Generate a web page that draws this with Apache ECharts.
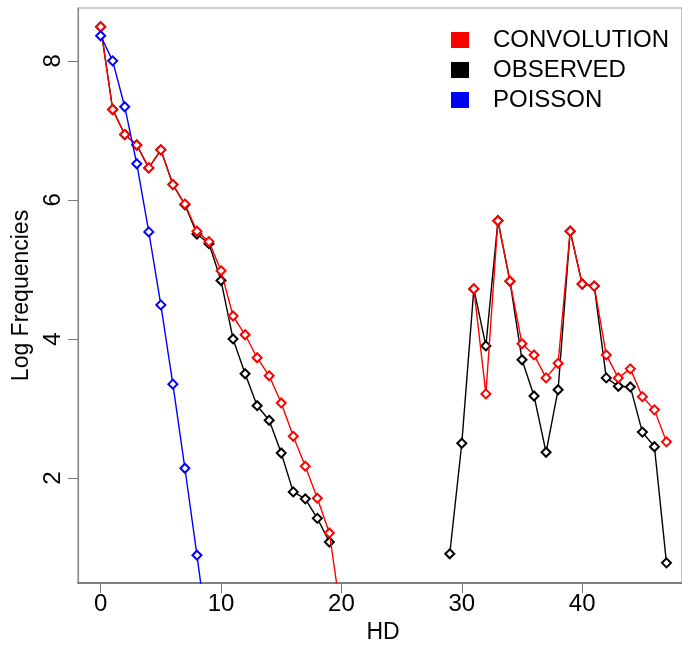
<!DOCTYPE html>
<html>
<head>
<meta charset="utf-8">
<script src="https://cdn.jsdelivr.net/npm/echarts@6/dist/echarts.min.js"></script>
<style>
  html, body { margin: 0; padding: 0; background: #fff; }
  #chart { width: 682px; height: 649px; }
</style>
</head>
<body>
<div id="chart"></div>
<script>
// Hamming distance (HD) values on the x axis
const hd = [0, 1, 2, 3, 4, 5, 6, 7, 8, 9, 10, 11, 12, 13, 14, 15, 16, 17, 18, 19,
            20, 21, 22, 23, 24, 25, 26, 27, 28, 29, 30, 31, 32, 33, 34, 35, 36, 37,
            38, 39, 40, 41, 42, 43, 44, 45, 46, 47];

// Log frequencies per HD (null = no count)
const convolution = [8.49, 7.30, 6.94, 6.79, 6.46, 6.72, 6.22, 5.94, 5.55, 5.40,
                     4.98, 4.33, 4.06, 3.73, 3.47, 3.08, 2.60, 2.17, 1.71, 1.21,
                     0.00, null, null, null, null, null, null, null, null, null,
                     null, 4.72, 3.21, 5.70, 4.83, 3.93, 3.77, 3.44, 3.65, 5.55,
                     4.79, 4.76, 3.77, 3.44, 3.57, 3.17, 2.98, 2.52];

const observed = [8.49, 7.30, 6.94, 6.79, 6.46, 6.72, 6.22, 5.93, 5.51, 5.37,
                  4.84, 4.00, 3.50, 3.04, 2.83, 2.36, 1.80, 1.70, 1.42, 1.08,
                  null, null, null, null, null, null, null, null, null, 0.91,
                  2.50, 4.72, 3.90, 5.70, 4.83, 3.70, 3.18, 2.37, 3.27, 5.55,
                  4.79, 4.76, 3.44, 3.32, 3.31, 2.66, 2.45, 0.78];

const poisson = [8.36, 8.00, 7.34, 6.52, 5.54, 4.49, 3.35, 2.14, 0.89, -0.40];

const xTicks = [0, 10, 20, 30, 40];
const yTicks = [2, 4, 6, 8];

const pairs = (vals) => vals.map((v, i) => [hd[i], v]);

const FONT = '"Liberation Sans", Arial, Helvetica, sans-serif';

function lineSeries(name, color, vals, z) {
  return {
    name: name,
    type: 'line',
    data: pairs(vals),
    z: z,
    clip: true,
    connectNulls: false,
    symbol: 'emptyDiamond',
    symbolSize: 9,
    color: color,
    lineStyle: { color: color, width: 1.4 },
    itemStyle: { color: color, borderWidth: 1.4 },
    emphasis: { disabled: true },
    animation: false
  };
}

const chart = echarts.init(document.getElementById('chart'), null, { renderer: 'canvas' });
chart.setOption({
  backgroundColor: '#ffffff',
  animation: false,
  textStyle: { fontFamily: FONT },
  grid: {
    left: 78, top: 8, bottom: 66, right: 0,
    show: true, borderColor: '#9a9a9a', borderWidth: 1.2,
    containLabel: false
  },
  legend: {
    orient: 'vertical',
    left: 446, top: 23,
    icon: 'rect',
    itemWidth: 18, itemHeight: 16,
    itemGap: 6,
    data: [
      { name: 'CONVOLUTION', itemStyle: { color: '#ff0000', borderWidth: 0 } },
      { name: 'OBSERVED', itemStyle: { color: '#000000', borderWidth: 0 } },
      { name: 'POISSON', itemStyle: { color: '#0000ff', borderWidth: 0 } }
    ],
    textStyle: { fontFamily: FONT, fontSize: 24, color: '#000', lineHeight: 24, padding: [0, 0, 0, 19] },
    selectedMode: false
  },
  xAxis: {
    type: 'value',
    min: -1.88, max: 48.29,
    name: 'HD',
    nameLocation: 'middle',
    nameGap: 36,
    nameTextStyle: { fontFamily: FONT, fontSize: 23, color: '#000', padding: [0, 0, 0, 6] },
    axisLine: { show: true, onZero: false, lineStyle: { color: '#666', width: 1.5 } },
    axisTick: { show: true, length: 10, customValues: xTicks, lineStyle: { color: '#777', width: 1 } },
    axisLabel: { customValues: xTicks, fontFamily: FONT, fontSize: 24, color: '#000', margin: 9 },
    splitLine: { show: false }
  },
  yAxis: {
    type: 'value',
    min: 0.49, max: 8.76,
    name: 'Log Frequencies',
    nameLocation: 'middle',
    nameGap: 44,
    nameRotate: 90,
    nameTextStyle: { fontFamily: FONT, fontSize: 23, color: '#000' },
    axisLine: { show: true, onZero: false, lineStyle: { color: '#888', width: 1.2 } },
    axisTick: { show: true, length: 10, customValues: yTicks, lineStyle: { color: '#777', width: 1 } },
    axisLabel: { customValues: yTicks, rotate: 90, fontFamily: FONT, fontSize: 24, color: '#000', margin: 13 },
    splitLine: { show: false }
  },
  series: [
    lineSeries('OBSERVED', '#000000', observed, 2),
    lineSeries('CONVOLUTION', '#ff0000', convolution, 3),
    lineSeries('POISSON', '#0000ff', poisson, 4)
  ]
});
</script>
</body>
</html>
